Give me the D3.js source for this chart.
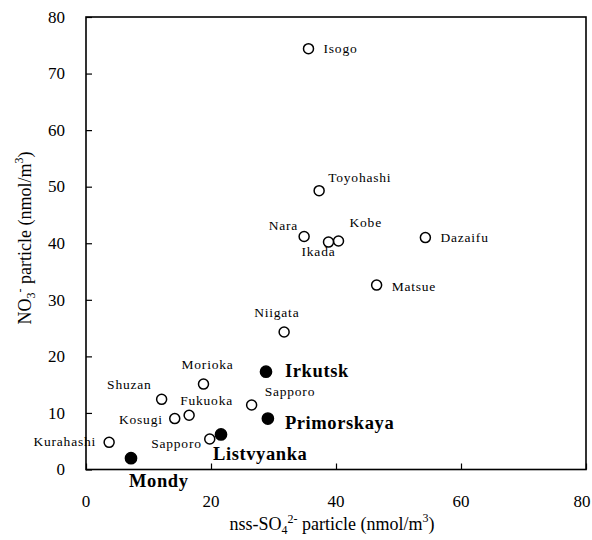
<!DOCTYPE html>
<html>
<head>
<meta charset="utf-8">
<script src="https://cdn.jsdelivr.net/npm/d3@7"></script>
<style>
  html, body { margin: 0; padding: 0; background: #fff; }
  svg { display: block; }
  text { font-family: "Liberation Serif", "Times New Roman", serif; fill: #000; }
</style>
</head>
<body>
<svg id="chart" width="592" height="540"></svg>
<script>
// ---- data ----
const sites = ["Isogo","Toyohashi","Nara","Kobe","Ikada","Dazaifu","Matsue","Niigata","Morioka","Irkutsk","Sapporo","Primorskaya","Shuzan","Fukuoka","Kosugi","Kurahashi","Sapporo","Listvyanka","Mondy"];
const so4 = [35.6, 37.3, 34.9, 40.4, 38.8, 54.3, 46.5, 31.7, 18.8, 28.8, 26.5, 29.1, 12.1, 16.5, 14.2, 3.7, 19.8, 21.6, 7.2];
const no3 = [74.4, 49.3, 41.2, 40.4, 40.2, 41.0, 32.6, 24.3, 15.1, 17.3, 11.4, 9.0, 12.4, 9.6, 9.0, 4.8, 5.4, 6.2, 2.0];
const russian = [false,false,false,false,false,false,false,false,false,true,false,true,false,false,false,false,false,true,true];
const xTicks = [0, 20, 40, 60, 80];
const yTicks = [0, 10, 20, 30, 40, 50, 60, 70, 80];

// ---- layout (label placement relative to markers) ----
const labelPos = [
  {dx: 15, dy: 4, a: "start"},   // Isogo
  {dx: 9, dy: -9, a: "start"},   // Toyohashi
  {dx: -6, dy: -6, a: "end"},    // Nara
  {dx: 11, dy: -14, a: "start"}, // Kobe
  {dx: -27, dy: 14, a: "start"}, // Ikada
  {dx: 15, dy: 4, a: "start"},   // Dazaifu
  {dx: 15, dy: 6, a: "start"},   // Matsue
  {dx: -30, dy: -15, a: "start"},// Niigata
  {dx: -22, dy: -15, a: "start"},// Morioka
  {dx: 19, dy: 5, a: "start"},   // Irkutsk
  {dx: 13, dy: -9, a: "start"},  // Sapporo
  {dx: 17, dy: 10, a: "start"},  // Primorskaya
  {dx: -10, dy: -10, a: "end"},  // Shuzan
  {dx: -9, dy: -10, a: "start"}, // Fukuoka
  {dx: -12, dy: 5, a: "end"},    // Kosugi
  {dx: -13, dy: 4, a: "end"},    // Kurahashi
  {dx: -8, dy: 9, a: "end"},     // Sapporo
  {dx: -8, dy: 26, a: "start"},  // Listvyanka
  {dx: -2, dy: 29, a: "start"}   // Mondy
];

const margin = {left: 86, right: 6, top: 17, bottom: 70.5};
const W = 592, H = 540;
const svg = d3.select("#chart");

const x = d3.scaleLinear().domain([0, 80]).range([margin.left, W - margin.right]);
const y = d3.scaleLinear().domain([0, 80]).range([H - margin.bottom, margin.top]);

// frame
svg.append("rect")
  .attr("x", x(0)).attr("y", y(80))
  .attr("width", x(80) - x(0)).attr("height", y(0) - y(80))
  .attr("fill", "none").attr("stroke", "#000").attr("stroke-width", 1.6);

// axes with inward ticks
const xAxis = d3.axisBottom(x).tickValues(xTicks).tickSize(-6).tickPadding(0).tickFormat("");
const gx = svg.append("g").attr("transform", `translate(0,${y(0)})`).call(xAxis);
gx.select(".domain").remove();
gx.selectAll("line").attr("stroke", "#000").attr("stroke-width", 1.2);

const yAxis = d3.axisLeft(y).tickValues(yTicks).tickSize(-6).tickFormat("");
const gy = svg.append("g").attr("transform", `translate(${x(0)},0)`).call(yAxis);
gy.select(".domain").remove();
gy.selectAll("line").attr("stroke", "#000").attr("stroke-width", 1.2);

// tick labels
svg.append("g").selectAll("text").data(xTicks).join("text")
  .attr("x", d => Math.min(x(d), W - 10)).attr("y", 507)
  .attr("text-anchor", "middle").attr("font-size", 17)
  .text(d => d);

svg.append("g").selectAll("text").data(yTicks).join("text")
  .attr("x", x(0) - 21).attr("y", d => y(d)).attr("dy", "0.34em")
  .attr("text-anchor", "end").attr("font-size", 17)
  .text(d => d);

// axis titles
const xt = svg.append("text").attr("x", 332).attr("y", 530)
  .attr("text-anchor", "middle").attr("font-size", 18);
xt.append("tspan").text("nss-SO");
xt.append("tspan").attr("font-size", 12).attr("dy", 4).text("4");
xt.append("tspan").attr("font-size", 12).attr("dy", -11).text("2-");
xt.append("tspan").attr("dy", 7).text(" particle (nmol/m");
xt.append("tspan").attr("font-size", 12).attr("dy", -8).text("3");
xt.append("tspan").attr("dy", 8).text(")");

const yt = svg.append("text")
  .attr("transform", `translate(31,238) rotate(-90)`)
  .attr("text-anchor", "middle").attr("font-size", 18);
yt.append("tspan").text("NO");
yt.append("tspan").attr("font-size", 12).attr("dy", 4).text("3");
yt.append("tspan").attr("font-size", 12).attr("dy", -11).text("-");
yt.append("tspan").attr("dy", 7).text(" particle (nmol/m");
yt.append("tspan").attr("font-size", 12).attr("dy", -8).text("3");
yt.append("tspan").attr("dy", 8).text(")");

// points
const idx = d3.range(sites.length);
svg.append("g").selectAll("circle").data(idx).join("circle")
  .attr("cx", i => x(so4[i])).attr("cy", i => y(no3[i]))
  .attr("r", i => russian[i] ? 5.6 : 5)
  .attr("fill", i => russian[i] ? "#000" : "#fff")
  .attr("stroke", "#000").attr("stroke-width", 1.5);

// labels
svg.append("g").selectAll("text").data(idx).join("text")
  .attr("x", i => x(so4[i]) + labelPos[i].dx)
  .attr("y", i => y(no3[i]) + labelPos[i].dy)
  .attr("text-anchor", i => labelPos[i].a)
  .attr("font-size", i => russian[i] ? 18.5 : 13.5)
  .attr("font-weight", i => russian[i] ? "bold" : "normal")
  .attr("letter-spacing", i => russian[i] ? 0.6 : 0.8)
  .text(i => sites[i]);
</script>
</body>
</html>
